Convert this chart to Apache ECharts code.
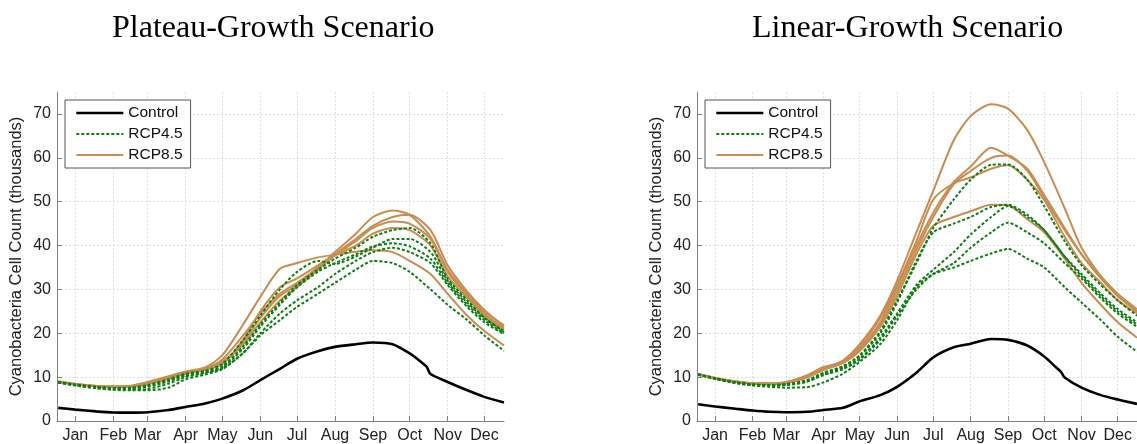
<!DOCTYPE html>
<html>
<head>
<meta charset="utf-8">
<script src="https://cdn.jsdelivr.net/npm/echarts@6/dist/echarts.min.js"></script>
<style>
  html, body { margin: 0; padding: 0; background: #fff; }
  #chart { width: 1137px; height: 444px; }
</style>
</head>
<body>
<div id="chart"></div>
<script>
// sample days (day of year), 1st and 15th of each month
var days = [1, 15, 32, 46, 60, 74, 91, 105, 121, 135, 152, 166, 182, 196, 213, 227, 244, 258, 274, 288, 305, 319, 335, 349, 365];
var controlDays = [1, 15, 32, 46, 60, 74, 91, 105, 121, 135, 152, 166, 182, 196, 213, 227, 244, 258, 274, 288, 298, 302, 305, 319, 335, 349, 365];
var monthNames = ['Jan', 'Feb', 'Mar', 'Apr', 'May', 'Jun', 'Jul', 'Aug', 'Sep', 'Oct', 'Nov', 'Dec'];
var monthTickDays = [15, 46, 74, 105, 135, 166, 196, 227, 258, 288, 319, 349];
var yTicks = [0, 10, 20, 30, 40, 50, 60, 70];
var panelTitles = ['Plateau-Growth Scenario', 'Linear-Growth Scenario'];

// Plateau-Growth panel
var plateauControl = [3.0, 2.6, 2.2, 1.95, 1.9, 2.0, 2.5, 3.2, 4.0, 5.1, 7.0, 9.3, 11.9, 14.2, 15.9, 16.9, 17.5, 17.9, 17.5, 15.4, 13.3, 12.3, 10.7, 8.9, 7.0, 5.5, 4.2];
var plateauRcp45 = [
  [8.9, 8.3, 7.8, 7.5, 7.5, 8.0, 9.3, 10.5, 11.3, 12.5, 17.0, 22.0, 27.0, 31.0, 34.5, 37.0, 39.5, 42.0, 43.5, 44.0, 40.5, 32.5, 27.5, 23.5, 20.5],
  [8.9, 8.3, 7.8, 7.5, 7.6, 8.2, 9.5, 10.8, 11.5, 13.0, 18.5, 24.0, 30.0, 34.0, 36.5, 35.8, 37.5, 39.5, 41.5, 41.5, 38.5, 32.0, 27.0, 23.5, 20.3],
  [8.8, 8.2, 7.7, 7.4, 7.4, 7.8, 9.0, 10.3, 11.0, 12.2, 16.5, 21.5, 26.5, 30.5, 34.0, 36.0, 38.0, 39.8, 40.5, 39.8, 37.0, 31.5, 26.5, 23.0, 20.0],
  [8.8, 8.1, 7.5, 7.1, 7.0, 7.0, 7.6, 9.5, 10.6, 11.8, 15.5, 20.0, 24.5, 27.5, 30.5, 33.5, 36.5, 38.5, 39.5, 38.5, 36.0, 31.0, 26.0, 22.5, 19.8],
  [8.8, 8.1, 7.5, 7.2, 7.1, 7.3, 8.5, 10.0, 11.0, 12.0, 15.5, 19.5, 23.0, 26.0, 29.0, 31.5, 34.5, 36.5, 36.0, 34.0, 30.0, 26.5, 23.0, 19.5, 16.0]
];
var plateauRcp85 = [
  [9.0, 8.5, 8.0, 7.9, 8.0, 8.8, 10.0, 11.2, 12.0, 14.0, 19.5, 24.5, 29.0, 31.5, 35.0, 38.5, 42.7, 46.5, 48.0, 47.0, 42.0, 34.5, 29.0, 25.0, 21.8],
  [9.0, 8.4, 8.0, 7.8, 7.9, 8.6, 9.8, 11.0, 12.0, 13.5, 18.0, 23.5, 28.5, 31.0, 35.0, 38.0, 41.5, 44.5, 46.5, 47.0, 43.5, 35.5, 29.5, 25.3, 21.5],
  [8.9, 8.4, 7.9, 7.8, 7.9, 8.5, 9.7, 10.9, 11.8, 13.2, 17.5, 22.5, 27.5, 30.5, 34.5, 37.8, 41.0, 44.0, 45.5, 45.0, 41.5, 34.0, 28.5, 24.5, 21.0],
  [8.9, 8.3, 7.9, 7.7, 7.8, 8.4, 9.6, 10.8, 11.7, 13.0, 18.5, 25.0, 30.5, 32.5, 35.5, 37.8, 40.0, 42.7, 44.0, 43.5, 40.0, 33.0, 28.0, 24.0, 20.8],
  [9.0, 8.4, 8.0, 7.8, 8.0, 8.9, 10.2, 11.3, 12.2, 15.0, 22.0, 28.3, 34.7, 36.0, 37.3, 37.9, 38.6, 38.9, 38.5, 36.5, 33.5, 29.0, 24.0, 20.5, 17.2]
];

// Linear-Growth panel
var linearControl = [3.8, 3.3, 2.8, 2.4, 2.1, 2.0, 2.1, 2.5, 3.0, 4.5, 5.9, 7.8, 11.0, 14.5, 16.8, 17.6, 18.7, 18.5, 17.2, 14.7, 12.2, 11.2, 9.9, 7.6, 5.9, 4.9, 3.9];
var linearRcp45 = [
  [10.6, 9.7, 8.8, 8.3, 8.2, 8.4, 9.3, 11.0, 12.5, 15.0, 20.5, 27.5, 36.0, 44.0, 50.5, 55.0, 58.4, 58.5, 55.0, 49.0, 41.0, 35.5, 31.0, 27.5, 24.0],
  [10.6, 9.7, 8.8, 8.3, 8.2, 8.4, 9.2, 10.9, 12.3, 14.8, 20.0, 27.0, 36.5, 43.0, 45.0, 46.5, 48.8, 49.3, 47.0, 43.5, 37.5, 33.5, 29.0, 25.5, 22.5],
  [10.6, 9.7, 8.8, 8.3, 8.1, 8.2, 9.0, 10.6, 12.0, 14.2, 19.0, 24.5, 31.0, 34.5, 38.5, 42.5, 46.5, 49.0, 46.5, 43.5, 37.5, 33.0, 28.5, 25.0, 22.0],
  [10.6, 9.7, 8.8, 8.3, 8.1, 8.2, 8.9, 10.5, 11.8, 14.0, 18.5, 24.0, 30.0, 33.5, 36.0, 39.5, 43.0, 45.2, 43.0, 40.5, 36.0, 32.5, 28.0, 24.5, 21.5],
  [10.5, 9.6, 8.6, 8.1, 7.8, 7.6, 7.7, 8.8, 10.8, 13.5, 17.5, 23.0, 30.5, 33.5, 35.0, 36.5, 38.2, 39.2, 37.0, 35.0, 30.5, 27.0, 23.0, 19.2, 15.8]
];
var linearRcp85 = [
  [10.7, 9.8, 9.0, 8.6, 8.5, 8.8, 10.2, 12.0, 13.8, 17.5, 24.0, 32.0, 43.0, 52.5, 64.0, 69.5, 72.2, 71.2, 66.3, 59.0, 48.5, 39.5, 33.0, 28.5, 25.0],
  [10.7, 9.8, 9.0, 8.6, 8.6, 8.9, 10.4, 12.3, 13.5, 16.5, 22.5, 30.5, 40.0, 47.5, 54.5, 58.0, 62.3, 60.5, 57.5, 51.5, 44.0, 38.0, 33.0, 29.0, 25.5],
  [10.6, 9.7, 8.9, 8.6, 8.5, 8.7, 10.0, 11.8, 13.3, 16.0, 22.0, 29.5, 39.0, 46.5, 54.0, 57.0, 60.0, 60.5, 57.0, 51.0, 43.5, 38.0, 32.5, 28.5, 25.0],
  [10.7, 9.8, 9.0, 8.6, 8.5, 8.8, 10.3, 12.0, 13.6, 17.0, 23.5, 31.0, 41.0, 50.5, 54.2, 55.5, 57.5, 58.3, 55.0, 50.4, 42.0, 36.0, 31.5, 27.5, 24.5],
  [10.7, 9.8, 9.0, 8.5, 8.4, 8.6, 9.9, 11.6, 13.2, 16.0, 21.5, 28.5, 38.0, 44.5, 46.5, 47.8, 49.3, 49.2, 46.0, 43.0, 37.0, 31.5, 26.5, 22.5, 19.0]
];

var fontSans = '"Liberation Sans", Arial, sans-serif';
var colControl = '#000000';
var col45 = '#0e7f14';
var col85 = '#c98d52';

function pairs(xs, ys) {
  return ys.map(function (v, i) { return [xs[i], v]; });
}

var panels = [
  { control: plateauControl, rcp45: plateauRcp45, rcp85: plateauRcp85 },
  { control: linearControl, rcp45: linearRcp45, rcp85: linearRcp85 }
];
var gridLefts = [57, 697];

var grids = [], xAxes = [], yAxes = [], series = [], titles = [], legends = [];

panels.forEach(function (p, k) {
  grids.push({ left: gridLefts[k], top: 92, width: 447, height: 329, containLabel: false });
  xAxes.push({
    type: 'value', gridIndex: k, min: 0, max: 365,
    axisLine: { show: true, lineStyle: { color: '#7f7f7f', width: 1 } },
    axisTick: { show: true, inside: true, length: 5, customValues: monthTickDays, lineStyle: { color: '#7f7f7f' } },
    axisLabel: {
      customValues: monthTickDays, margin: 7, color: '#222', fontFamily: fontSans, fontSize: 16,
      formatter: function (v) { return monthNames[monthTickDays.indexOf(v)]; }
    },
    splitLine: { show: true, lineStyle: { color: '#dedede', type: [2, 2], width: 1 } }
  });
  yAxes.push({
    type: 'value', gridIndex: k, min: 0, max: 75,
    name: 'Cyanobacteria Cell Count (thousands)', nameLocation: 'middle', nameGap: 32,
    nameTextStyle: { color: '#222', fontFamily: fontSans, fontSize: 16.5 },
    axisLine: { show: true, lineStyle: { color: '#7f7f7f', width: 1 } },
    axisTick: { show: true, inside: true, length: 5, customValues: yTicks, lineStyle: { color: '#7f7f7f' } },
    axisLabel: { customValues: yTicks, margin: 6, color: '#222', fontFamily: fontSans, fontSize: 16 },
    splitLine: { show: true, lineStyle: { color: '#dedede', type: [2, 2], width: 1 } }
  });

  p.rcp85.forEach(function (vals) {
    series.push({
      name: 'RCP8.5', type: 'line', xAxisIndex: k, yAxisIndex: k, data: pairs(days, vals),
      showSymbol: false, symbol: 'none', smooth: 0.25, silent: true,
      lineStyle: { color: col85, width: 2 }, itemStyle: { color: col85 }, z: 2
    });
  });
  p.rcp45.forEach(function (vals) {
    series.push({
      name: 'RCP4.5', type: 'line', xAxisIndex: k, yAxisIndex: k, data: pairs(days, vals),
      showSymbol: false, symbol: 'none', smooth: 0.25, silent: true,
      lineStyle: { color: col45, width: 2, type: [3, 2] }, itemStyle: { color: col45 }, z: 3
    });
  });
  series.push({
    name: 'Control', type: 'line', xAxisIndex: k, yAxisIndex: k, data: pairs(controlDays, p.control),
    showSymbol: false, symbol: 'none', smooth: 0.25, silent: true,
    lineStyle: { color: colControl, width: 2.6 }, itemStyle: { color: colControl }, z: 4
  });

  titles.push({
    text: panelTitles[k], left: [112, 752][k], top: 13, padding: 0,
    textStyle: { fontFamily: '"Liberation Serif", "Times New Roman", serif', fontSize: 32, fontWeight: 'normal', color: '#000' }
  });
  legends.push({
    data: ['Control', 'RCP4.5', 'RCP8.5'], orient: 'vertical',
    left: gridLefts[k] + 8, top: 100, padding: [5, 8, 5, 10], itemGap: 5,
    itemWidth: 47, itemHeight: 14, selectedMode: false,
    itemStyle: { opacity: 0, borderWidth: 0 },
    lineStyle: { width: 'inherit' },
    backgroundColor: '#fff', borderColor: '#555', borderWidth: 1, borderRadius: 0,
    textStyle: { color: '#111', fontFamily: fontSans, fontSize: 15.5 }
  });
});

var chart = echarts.init(document.getElementById('chart'), null, { renderer: 'canvas' });
chart.setOption({
  animation: false,
  backgroundColor: '#fff',
  title: titles,
  legend: legends,
  grid: grids,
  xAxis: xAxes,
  yAxis: yAxes,
  series: series
});
</script>
</body>
</html>
